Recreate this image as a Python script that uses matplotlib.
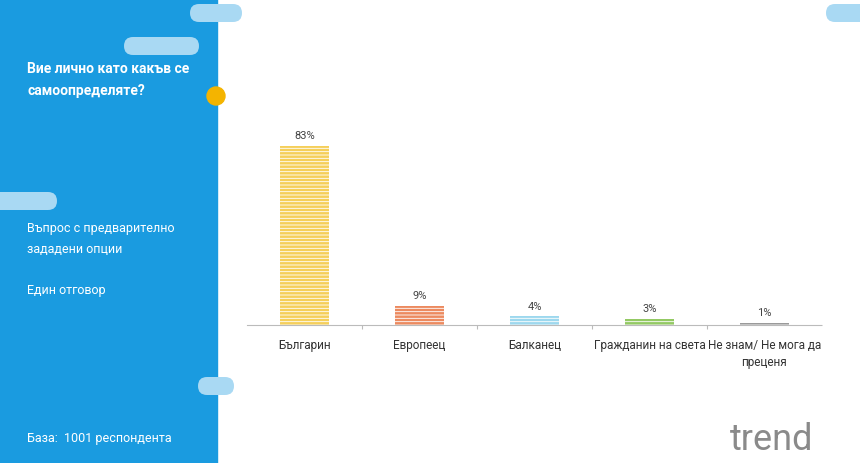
import matplotlib.pyplot as plt
from matplotlib.patches import FancyBboxPatch, Rectangle, Circle

categories = ['Българин', 'Европеец', 'Балканец', 'Гражданин на света', 'Не знам/ Не мога да\nпреценя']
values = [83, 9, 4, 3, 1]
colors = ['#f5cf5a', '#ec8a5f', '#9dd8ee', '#93c963', '#9a9a9a']

plt.rcParams['font.family'] = ['Roboto', 'DejaVu Sans']
plt.rcParams['hatch.linewidth'] = 0.6

fig = plt.figure(figsize=(8.6, 4.64), dpi=100)
W, H = 860, 464

def px(x, y, w, h):
    return (x / W, 1 - (y + h) / H, w / W, h / H)

# left blue panel and decorations
bg = fig.add_axes([0, 0, 1, 1])
bg.set_xlim(0, W)
bg.set_ylim(H, 0)
bg.axis('off')
bg.add_patch(Rectangle((0, 0), 217, H, color='#1a9be0'))
pills = [(190, 5, 52, 18), (124, 38, 75, 18), (-20, 193, 77, 18), (198, 378, 36, 18), (826, 5, 50, 18)]
for x, y, w, h in pills:
    bg.add_patch(FancyBboxPatch((x, y), w, h, boxstyle='round,pad=0,rounding_size=9',
                                color='#a9d9f3', lw=0))
bg.add_patch(Circle((216, 97), 9, color='#f4b400'))
bg.text(27, 62, 'Вие лично като какъв се\nсамоопределяте?', color='white', fontsize=10,
        fontweight='bold', va='top', linespacing=1.7)
bg.text(27, 222, 'Въпрос с предварително\nзададени опции', color='white', fontsize=9,
        va='top', linespacing=1.8)
bg.text(27, 284, 'Един отговор', color='white', fontsize=9, va='top')
bg.text(27, 432, 'База:  1001 респондента', color='white', fontsize=9, va='top')
bg.text(730, 440, 'trend', color='#8a8a8a', fontsize=26, va='center', ha='left')

ax = fig.add_axes(px(247, 110, 575, 216))
ax.bar(range(len(values)), values, width=0.43, color=colors,
       edgecolor='white', hatch='-----', linewidth=0)
for i, v in enumerate(values):
    ax.text(i, v + 2.5, f'{v}%', ha='center', va='bottom', fontsize=8, color='#444444')
ax.set_xlim(-0.5, len(values) - 0.5)
ax.set_ylim(0, 100)
ax.set_xticks([i + 0.5 for i in range(len(values) - 1)])
ax.set_xticklabels([])
ax.tick_params(axis='x', length=3, color='#bbbbbb')
for i, c in enumerate(categories):
    ax.text(i, -6, c, ha='center', va='top', fontsize=8.5, color='#333333', linespacing=1.4)
ax.set_yticks([])
for s in ['top', 'right', 'left']:
    ax.spines[s].set_visible(False)
ax.spines['bottom'].set_color('#bbbbbb')
ax.spines['bottom'].set_linestyle((0, (1, 1)))

fig.savefig('out.png', dpi=100)
